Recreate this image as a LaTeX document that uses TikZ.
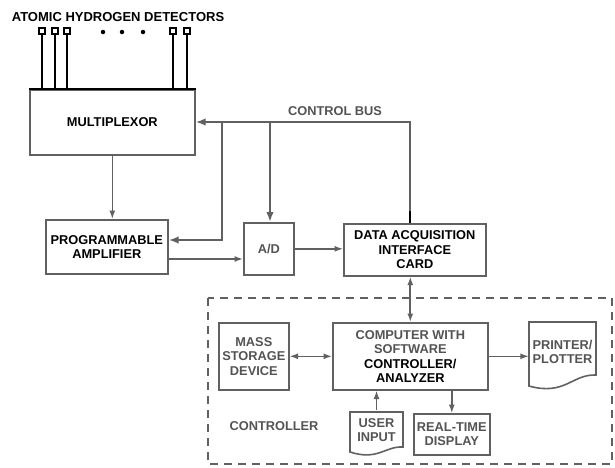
\documentclass[tikz,border=0pt]{standalone}
\usepackage{fontspec}
\setmainfont{Liberation Sans}
\usetikzlibrary{arrows.meta,calc}
\definecolor{ln}{gray}{0.38}
\definecolor{gt}{gray}{0.33}
\begin{document}
\begin{tikzpicture}[x=1pt,y=-1pt,
  every node/.style={font=\fontsize{12.8}{14.5}\selectfont\bfseries, align=center, inner sep=0pt},
  box/.style={draw=ln, line width=1.6pt, minimum width=#1, anchor=north west},
  gtxt/.style={text=gt},
  btxt/.style={text=black},
  conn/.style={draw=ln, line width=1.4pt, -{Latex[length=8.5pt,width=6pt]}},
  bicon/.style={draw=ln, line width=1.4pt, {Latex[length=8.5pt,width=6pt]}-{Latex[length=8.5pt,width=6pt]}},
  bus/.style={draw=ln, line width=2pt, -{Latex[length=10pt,width=7.5pt]}},
  det/.style={draw=black, line width=1.2pt, fill=white, minimum size=6pt},
  dot/.style={fill=black, circle, minimum size=4.5pt},
  ctrl/.style={draw=ln, line width=1.6pt, dash pattern=on 8pt off 6pt}
]
\useasboundingbox[fill=white] (0,0) rectangle (615,467);

% title and detectors
\node[btxt, font=\fontsize{13}{15}\selectfont\bfseries] (title) at (118,17) {ATOMIC HYDROGEN DETECTORS};
\node[det] (d1) at (42,31) {};
\node[det] (d2) at (55,31) {};
\node[det] (d3) at (67,31) {};
\node[dot] (p1) at (103,32) {};
\node[dot] (p2) at (122,32) {};
\node[dot] (p3) at (143,32) {};
\node[det] (d4) at (173,31) {};
\node[det] (d5) at (187,31) {};

% main boxes
\node[box=165pt, minimum height=65pt, btxt] (mux) at (29,89) {MULTIPLEXOR};
\draw[black, line width=2pt] (mux.north west) -- (mux.north east);
\foreach \d in {d1,d2,d3,d4,d5}
  \draw[black, line width=1.5pt] (\d.south) -- (\d.south |- mux.north);

\node[box=122pt, minimum height=54pt, btxt] (amp) at (45,219) {PROGRAMMABLE\\AMPLIFIER};
\node[box=50pt, minimum height=52pt, gtxt] (ad) at (243,222) {A/D};
\node[box=142pt, minimum height=52pt, btxt] (daq) at (343,223) {DATA ACQUISITION\\INTERFACE\\CARD};

% controller area
\draw[ctrl] (208,298) rectangle (612,464);
\node[box=70pt, minimum height=67pt, gtxt] (mass) at (218,322) {MASS\\STORAGE\\DEVICE};
\node[box=155pt, minimum height=67pt] (comp) at (332,322) {\textcolor{gt}{COMPUTER WITH}\\\textcolor{gt}{SOFTWARE}\\CONTROLLER/\\ANALYZER};
\node[box=76pt, minimum height=41pt, gtxt] (rtd) at (413,413) {REAL-TIME\\DISPLAY};
\node[gtxt] (ctl) at (274,426) {CONTROLLER};

% document shapes
\node[gtxt, minimum width=67pt, minimum height=66pt] (prn) at (562.5,352) {PRINTER/\\PLOTTER};
\draw[ln, line width=1.6pt] (529,322) -- (596,322) -- (596,375)
  .. controls (572,374) and (565,396) .. (529,386) -- cycle;
\node[gtxt, minimum width=53pt, minimum height=40pt] (user) at (376.5,430) {USER\\INPUT};
\draw[ln, line width=1.6pt] (350,412) -- (403,412) -- (403,447)
  .. controls (385,446) and (378,461) .. (350,452) -- cycle;

% control bus
\coordinate (bR) at (410,122);
\coordinate (b1) at (222,122);
\coordinate (b2) at (270,122);
\node[gtxt] (cbus) at (335,111) {CONTROL BUS};
\draw[bus] (bR |- daq.north) -- (bR) -- (bR -| mux.east);
\draw[black, line width=2.8pt] (bR |- daq.north) -- ++(0,-12);
\draw[bus] (b1) -- (222,240) -- (amp.east |- 0,240);
\draw[bus] (b2) -- (b2 |- ad.north);

% data path
\draw[conn] (mux.south) -- (mux.south |- amp.north);
\draw[conn] (amp.east |- 0,259) -- (ad.west |- 0,259);
\draw[conn] (ad.east) -- (daq.west |- ad.east);
\draw[bicon, line width=1.8pt] (comp.north |- daq.south) -- (comp.north);
\draw[bicon] (mass.east) -- (comp.west);
\draw[conn] (comp.east) -- (prn.west |- comp.east);
\draw[conn] (user.north) -- (user.north |- comp.south);
\draw[conn] (rtd.north |- comp.south) -- (rtd.north);
\end{tikzpicture}
\end{document}
